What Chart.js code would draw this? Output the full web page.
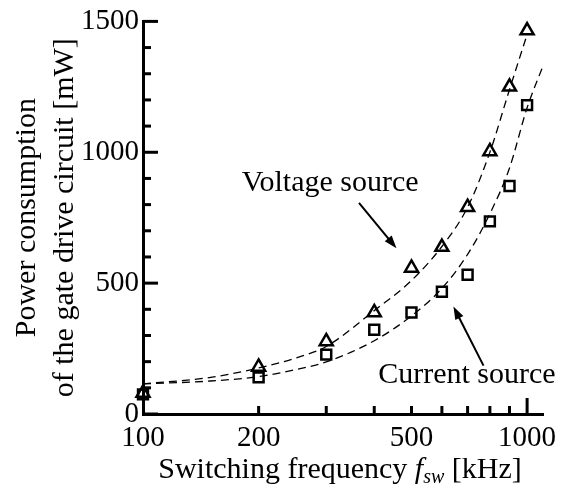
<!DOCTYPE html>
<html>
<head>
<meta charset="utf-8">
<script src="https://cdn.jsdelivr.net/npm/chart.js@4.4.1/dist/chart.umd.min.js"></script>
<style>
  html, body { margin: 0; padding: 0; background: #fff; }
</style>
</head>
<body>
<canvas id="power-chart" width="564" height="488"></canvas>
<script>
// measured points (kHz / mW)
var freqs = [100, 200, 300, 400, 500, 600, 700, 800, 900, 1000];
var voltagePower = [80, 180, 277, 388, 558, 638, 790, 1003, 1250, 1465];
var currentPower = [75, 140, 227, 322, 388, 467, 532, 736, 871, 1180];

// dashed fit curves
var voltageFitFreqs = [100, 150, 200, 250, 300, 400, 500, 600, 700, 800, 900, 1000];
var voltageFit = [115, 140, 176, 214, 258, 395, 510, 640, 790, 1000, 1240, 1450];
var currentFitFreqs = [100, 150, 200, 250, 300, 400, 500, 600, 700, 800, 900, 1000, 1100];
var currentFit = [115, 126, 143, 170, 199, 280, 375, 480, 610, 765, 940, 1170, 1330];

// ticks
var xTickLabels = [100, 200, 500, 1000];
var xMinorTicks = [200, 300, 400, 500, 600, 700, 800, 900];
var xMajorTicks = [1000];
var yTickLabels = [0, 500, 1000, 1500];
var yMinorTicks = [100, 200, 300, 400, 600, 700, 800, 900, 1100, 1200, 1300, 1400];

// annotations, in data units
var notes = [
  { text: "Voltage source", at: [307, 852], from: [365, 807], to: [457, 633] },
  { text: "Current source", at: [697, 117], from: [770, 185], to: [643, 411] }
];

var serif = "'Liberation Serif', 'Times New Roman', serif";

function toXY(data, xs) {
  return data.map(function (v, i) { return { x: xs[i], y: v }; });
}

var inwardTicks = {
  id: "inwardTicks",
  afterDraw: function (chart) {
    var ctx = chart.ctx, xs = chart.scales.x, ys = chart.scales.y;
    var area = chart.chartArea;
    ctx.save();
    ctx.strokeStyle = "#000";
    ctx.lineWidth = 3;
    ctx.lineCap = "butt";
    function yTick(v, len) {
      var p = ys.getPixelForValue(v);
      ctx.beginPath(); ctx.moveTo(area.left, p); ctx.lineTo(area.left + len, p); ctx.stroke();
    }
    function xTick(v, len) {
      var p = xs.getPixelForValue(v);
      ctx.beginPath(); ctx.moveTo(p, area.bottom); ctx.lineTo(p, area.bottom - len); ctx.stroke();
    }
    yMinorTicks.forEach(function (v) { yTick(v, 8); });
    yTickLabels.forEach(function (v) { yTick(v, 15); });
    xMinorTicks.forEach(function (v) { xTick(v, 8); });
    xMajorTicks.forEach(function (v) { xTick(v, 16); });
    ctx.restore();
  }
};

var titlesAndNotes = {
  id: "titlesAndNotes",
  afterDraw: function (chart) {
    var ctx = chart.ctx, xs = chart.scales.x, ys = chart.scales.y;
    var area = chart.chartArea;
    ctx.save();
    ctx.fillStyle = "#000";
    ctx.strokeStyle = "#000";

    // y title, two rotated lines
    var cy = (area.top + area.bottom) / 2;
    ctx.font = "30px " + serif;
    ctx.textAlign = "center";
    ctx.textBaseline = "alphabetic";
    [["Power consumption", 35], ["of the gate drive circuit [mW]", 73]].forEach(function (l) {
      ctx.save();
      ctx.translate(l[1], cy);
      ctx.rotate(-Math.PI / 2);
      ctx.fillText(l[0], 0, 0);
      ctx.restore();
    });

    // x title with italic f and subscript sw
    var parts = [
      { t: "Switching frequency ", f: "30px " + serif, dy: 0 },
      { t: "f", f: "italic 30px " + serif, dy: 0 },
      { t: "sw", f: "italic 20px " + serif, dy: 5 },
      { t: " [kHz]", f: "30px " + serif, dy: 0 }
    ];
    var total = 0;
    parts.forEach(function (p) { ctx.font = p.f; p.w = ctx.measureText(p.t).width; total += p.w; });
    var x0 = (area.left + area.right) / 2 - total / 2 - 3;
    ctx.textAlign = "left";
    parts.forEach(function (p) {
      ctx.font = p.f;
      ctx.fillText(p.t, x0, 478 + p.dy);
      x0 += p.w;
    });

    // annotations with arrows
    ctx.font = "30px " + serif;
    ctx.textAlign = "center";
    notes.forEach(function (n) {
      ctx.fillText(n.text, xs.getPixelForValue(n.at[0]), ys.getPixelForValue(n.at[1]));
      var x1 = xs.getPixelForValue(n.from[0]), y1 = ys.getPixelForValue(n.from[1]);
      var x2 = xs.getPixelForValue(n.to[0]), y2 = ys.getPixelForValue(n.to[1]);
      var a = Math.atan2(y2 - y1, x2 - x1);
      var head = 13, half = 4.5;
      ctx.lineWidth = 2;
      ctx.beginPath();
      ctx.moveTo(x1, y1);
      ctx.lineTo(x2 - Math.cos(a) * head * 0.8, y2 - Math.sin(a) * head * 0.8);
      ctx.stroke();
      ctx.beginPath();
      ctx.moveTo(x2, y2);
      ctx.lineTo(x2 - Math.cos(a) * head - Math.sin(a) * half, y2 - Math.sin(a) * head + Math.cos(a) * half);
      ctx.lineTo(x2 - Math.cos(a) * head + Math.sin(a) * half, y2 - Math.sin(a) * head - Math.cos(a) * half);
      ctx.closePath();
      ctx.fill();
    });
    ctx.restore();
  }
};

var ctx = document.getElementById("power-chart").getContext("2d");

var chart = new Chart(ctx, {
  type: "scatter",
  data: {
    datasets: [
      {
        label: "Voltage source",
        data: toXY(voltagePower, freqs),
        pointStyle: "triangle",
        pointRadius: 7.5,
        pointBorderWidth: 2.5,
        borderColor: "#000",
        backgroundColor: "rgba(0,0,0,0)",
        showLine: false,
        clip: false,
      },
      {
        label: "Current source",
        data: toXY(currentPower, freqs),
        pointStyle: "rect",
        pointRadius: 7,
        pointBorderWidth: 2.5,
        borderColor: "#000",
        backgroundColor: "rgba(0,0,0,0)",
        showLine: false,
        clip: false,
      },
      {
        label: "Voltage fit",
        data: toXY(voltageFit, voltageFitFreqs),
        showLine: true,
        pointRadius: 0,
        borderColor: "#000",
        borderWidth: 1.3,
        borderDash: [8, 5],
        cubicInterpolationMode: "monotone",
        fill: false,
      },
      {
        label: "Current fit",
        data: toXY(currentFit, currentFitFreqs),
        showLine: true,
        pointRadius: 0,
        borderColor: "#000",
        borderWidth: 1.3,
        borderDash: [8, 5],
        cubicInterpolationMode: "monotone",
        fill: false,
      },
    ],
  },
  options: {
    responsive: false,
    animation: false,
    devicePixelRatio: 1,
    layout: {
      padding: { top: 16, right: 21, left: 0, bottom: 0 },
    },
    plugins: {
      legend: { display: false },
      tooltip: { enabled: false },
    },
    scales: {
      x: {
        type: "logarithmic",
        min: 100,
        max: 1100,
        afterBuildTicks: function (scale) {
          scale.ticks = xTickLabels.map(function (v) { return { value: v }; });
        },
        afterFit: function (scale) { scale.height = 74; },
        grid: { display: false, drawTicks: false },
        border: { display: true, color: "#000", width: 3 },
        ticks: {
          autoSkip: false,
          maxRotation: 0,
          padding: 7,
          color: "#000",
          font: { size: 29, family: serif },
          callback: function (v) { return String(v); },
        },
      },
      y: {
        min: 0,
        max: 1500,
        afterBuildTicks: function (scale) {
          scale.ticks = yTickLabels.map(function (v) { return { value: v }; });
        },
        afterFit: function (scale) { scale.width = 143; },
        grid: { display: false, drawTicks: false },
        border: { display: true, color: "#000", width: 3 },
        ticks: {
          padding: 4,
          color: "#000",
          font: { size: 29, family: serif },
          callback: function (v) { return String(v); },
        },
      },
    },
  },
  plugins: [inwardTicks, titlesAndNotes],
});
</script>
</body>
</html>
